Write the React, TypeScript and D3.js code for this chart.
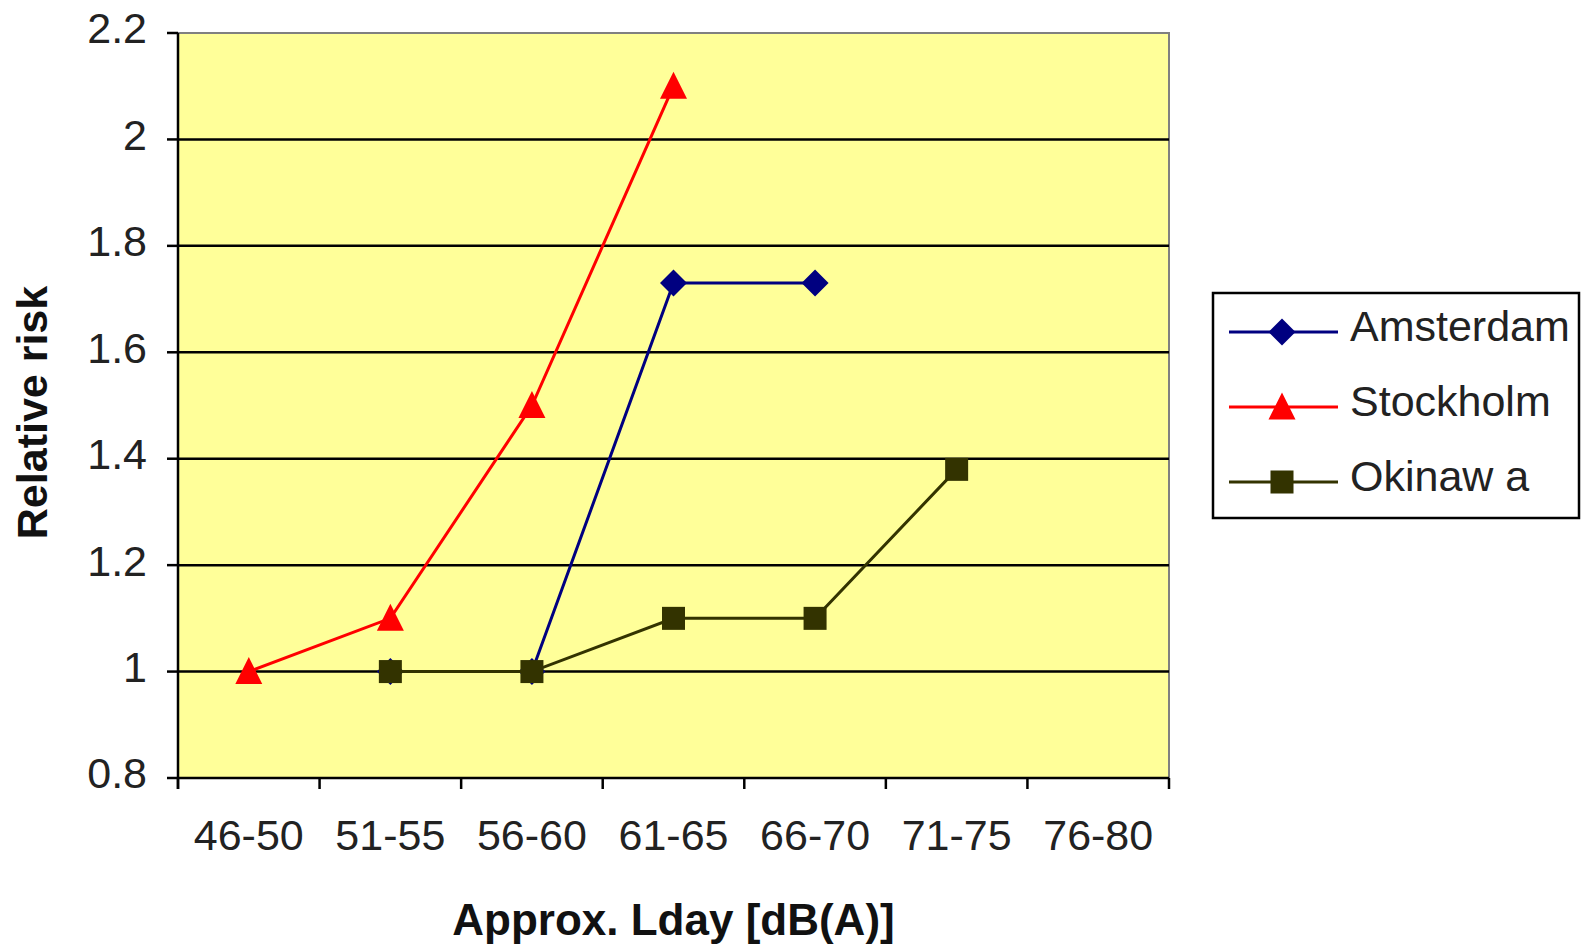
import React from "react";
import * as d3 from "d3";

const categories = ["46-50", "51-55", "56-60", "61-65", "66-70", "71-75", "76-80"];
const amsterdam: (number | null)[] = [null, 1.0, 1.0, 1.73, 1.73, null, null];
const stockholm: (number | null)[] = [1.0, 1.1, 1.5, 2.1, null, null, null];
const okinawa: (number | null)[] = [null, 1.0, 1.0, 1.1, 1.1, 1.38, null];
const yTicks = [0.8, 1, 1.2, 1.4, 1.6, 1.8, 2, 2.2];
const seriesNames = ["Amsterdam", "Stockholm", "Okinawa"];

const W = 1589;
const H = 947;
const left = 178;
const right = 1169;
const top = 33;
const bottom = 778;
const FONT = "Liberation Sans, Arial, sans-serif";

const series = [
  { name: seriesNames[0], values: amsterdam, color: "#000080", marker: "diamond" },
  { name: seriesNames[1], values: stockholm, color: "#FF0000", marker: "triangle" },
  { name: seriesNames[2], values: okinawa, color: "#333300", marker: "square" },
];

function Marker({ type, x, y, color }: { type: string; x: number; y: number; color: string }) {
  if (type === "diamond") {
    const s = 13.5;
    return <path d={`M${x},${y - s} L${x + s},${y} L${x},${y + s} L${x - s},${y} Z`} fill={color} />;
  }
  if (type === "triangle") {
    const h = 27;
    const w = 27;
    return (
      <path d={`M${x},${y - h / 2 - 1} L${x + w / 2},${y + h / 2 - 1} L${x - w / 2},${y + h / 2 - 1} Z`} fill={color} />
    );
  }
  const s = 23;
  return <rect x={x - s / 2} y={y - s / 2} width={s} height={s} fill={color} />;
}

export default function App() {
  const x = d3.scaleBand<string>().domain(categories).range([left, right]).padding(0);
  const y = d3.scaleLinear().domain([0.8, 2.2]).range([bottom, top]);
  const cx = (c: string) => (x(c) as number) + x.bandwidth() / 2;

  const line = d3
    .line<[string, number | null]>()
    .defined((d) => d[1] !== null)
    .x((d) => cx(d[0]))
    .y((d) => y(d[1] as number));

  const boundaries = d3.range(categories.length + 1).map((i) => left + i * x.bandwidth());

  const legendRows = [332, 407, 482];

  return (
    <svg
      width={W}
      height={H}
      style={{ position: "absolute", left: 0, top: 0, background: "#fff" }}
      fontFamily={FONT}
    >
      <rect x={left} y={top} width={right - left} height={bottom - top} fill="#FFFF99" stroke="#808080" strokeWidth={2} />
      {yTicks
        .filter((t) => t !== 0.8 && t !== 2.2)
        .map((t) => (
          <line key={t} x1={left} x2={right} y1={y(t)} y2={y(t)} stroke="#000" strokeWidth={2.5} />
        ))}
      {/* axes */}
      <line x1={left} x2={left} y1={top} y2={bottom + 11} stroke="#000" strokeWidth={2.5} />
      <line x1={left} x2={right} y1={bottom} y2={bottom} stroke="#000" strokeWidth={2.5} />
      {yTicks.map((t) => (
        <g key={"yt" + t}>
          <line x1={left - 11} x2={left} y1={y(t)} y2={y(t)} stroke="#000" strokeWidth={2.5} />
          <text x={147} y={y(t) - 1} textAnchor="end" dominantBaseline="middle" fontSize={43} fill="#222">
            {String(t)}
          </text>
        </g>
      ))}
      {boundaries.map((b, i) => (
        <line key={"xt" + i} x1={b} x2={b} y1={bottom} y2={bottom + 11} stroke="#000" strokeWidth={2.5} />
      ))}
      {categories.map((c) => (
        <text key={c} x={cx(c)} y={839} textAnchor="middle" dominantBaseline="middle" fontSize={43} fill="#222">
          {c}
        </text>
      ))}
      <text
        x={(left + right) / 2}
        y={923}
        textAnchor="middle"
        dominantBaseline="middle"
        fontSize={44}
        fontWeight="bold"
        fill="#111"
      >
        Approx. Lday [dB(A)]
      </text>
      <text
        transform={`translate(36,${(top + bottom) / 2 + 7}) rotate(-90)`}
        textAnchor="middle"
        dominantBaseline="middle"
        fontSize={43}
        fontWeight="bold"
        fill="#111"
      >
        Relative risk
      </text>
      {series.map((s) => {
        const pts: [string, number | null][] = categories.map((c, i) => [c, s.values[i]]);
        return (
          <g key={s.name}>
            <path d={line(pts) || ""} fill="none" stroke={s.color} strokeWidth={3} />
            {pts
              .filter((p) => p[1] !== null)
              .map((p) => (
                <Marker key={p[0]} type={s.marker} x={cx(p[0])} y={y(p[1] as number)} color={s.color} />
              ))}
          </g>
        );
      })}
      {/* legend */}
      <rect x={1213} y={293} width={366} height={225} fill="#fff" stroke="#000" strokeWidth={2.5} />
      {series.map((s, i) => (
        <g key={"lg" + s.name}>
          <line x1={1229} x2={1338} y1={legendRows[i]} y2={legendRows[i]} stroke={s.color} strokeWidth={3} />
          <Marker type={s.marker} x={1282} y={legendRows[i]} color={s.color} />
          <text x={1350} y={legendRows[i] - 2} dominantBaseline="middle" fontSize={43} fill="#222">
            {s.name === "Okinawa" ? "Okinaw a" : s.name}
          </text>
        </g>
      ))}
    </svg>
  );
}
